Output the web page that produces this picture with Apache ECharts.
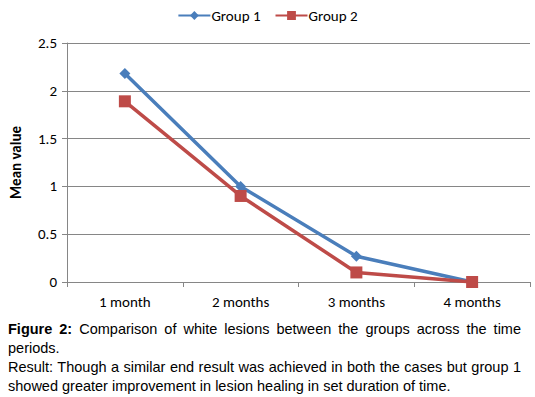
<!DOCTYPE html>
<html>
<head>
<meta charset="utf-8">
<script src="https://cdn.jsdelivr.net/npm/echarts@6/dist/echarts.min.js"></script>
<style>
html,body{margin:0;padding:0;background:#fff;}
#chart{position:absolute;left:0;top:0;width:535px;height:397px;}
#cap{position:absolute;left:8px;top:320px;width:513px;font-family:"Liberation Sans",Arial,sans-serif;font-size:14.5px;line-height:19px;color:#000;}
#cap div{white-space:nowrap;}
.j{text-align:justify;text-align-last:justify;}
</style>
</head>
<body>
<div id="chart"></div>
<div id="cap">
<div class="j"><b>Figure 2:</b> Comparison of white lesions between the groups across the time</div>
<div>periods.</div>
<div class="j">Result: Though a similar end result was achieved in both the cases but group 1</div>
<div>showed greater improvement in lesion healing in set duration of time.</div>
</div>
<script>
var categories = ['1 month', '2 months', '3 months', '4 months'];
var group1 = [2.18, 1.0, 0.27, 0];
var group2 = [1.89, 0.9, 0.1, 0];
var seriesNames = ['Group 1', 'Group 2'];
var yAxisName = 'Mean value';

var font = 'Carlito, Calibri, Lato, "Open Sans", sans-serif';
var chart = echarts.init(document.getElementById('chart'), null, {renderer: 'svg'});
chart.setOption({
  animation: false,
  backgroundColor: '#fff',
  textStyle: {fontFamily: font},
  legend: {
    top: 3,
    left: 'center',
    itemWidth: 32,
    itemHeight: 11,
    itemGap: 14,
    textStyle: {fontFamily: font, fontSize: 15, color: '#000', padding: [0, 0, 0, -4]},
    data: seriesNames
  },
  grid: {left: 65, right: 5, top: 43, bottom: 115, containLabel: false},
  xAxis: {
    type: 'category',
    data: categories,
    boundaryGap: true,
    axisLine: {lineStyle: {color: '#868686', width: 1}},
    axisTick: {show: true, alignWithLabel: false, length: 5, lineStyle: {color: '#868686'}},
    axisLabel: {color: '#000', fontSize: 15, fontFamily: font, margin: 12}
  },
  yAxis: {
    type: 'value',
    min: 0, max: 2.5, interval: 0.5,
    name: yAxisName,
    nameLocation: 'middle',
    nameGap: 44,
    nameRotate: 90,
    nameTextStyle: {color: '#000', fontSize: 15, fontWeight: 'bold', fontFamily: font},
    axisLine: {show: true, lineStyle: {color: '#868686'}},
    axisTick: {show: true, length: 5, inside: false, lineStyle: {color: '#868686'}},
    splitLine: {lineStyle: {color: '#868686', width: 1}},
    axisLabel: {color: '#000', fontSize: 15, fontFamily: font, margin: 10}
  },
  series: [
    {
      name: seriesNames[0], type: 'line', data: group1,
      symbol: 'diamond', symbolSize: 11,
      lineStyle: {color: '#4A7EBB', width: 3.5},
      itemStyle: {color: '#4A7EBB'}
    },
    {
      name: seriesNames[1], type: 'line', data: group2,
      symbol: 'rect', symbolSize: 12,
      lineStyle: {color: '#BE4B48', width: 3.5},
      itemStyle: {color: '#BE4B48'}
    }
  ]
});
</script>
</body>
</html>
